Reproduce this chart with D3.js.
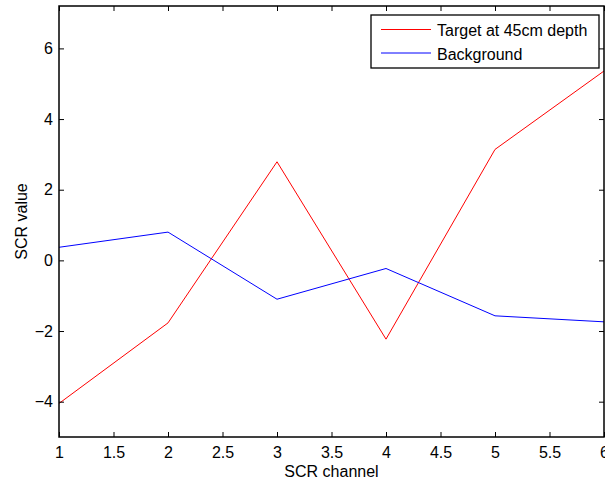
<!DOCTYPE html>
<html>
<head>
<meta charset="utf-8">
<script src="https://cdn.jsdelivr.net/npm/d3@7"></script>
<style>
  body { margin: 0; background: #fff; }
  svg text { font-family: "Liberation Sans", Arial, sans-serif; fill: #000; }
</style>
</head>
<body>
<div id="chart"></div>
<script>
// ------------------------------
// DONNEES
// ------------------------------
const channels = [1, 2, 3, 4, 5, 6];
const targetValues = [-4.05, -1.77, 2.79, -2.23, 3.14, 5.36];
const backgroundValues = [0.37, 0.8, -1.1, -0.23, -1.57, -1.74];
const xTicks = [1, 1.5, 2, 2.5, 3, 3.5, 4, 4.5, 5, 5.5, 6];
const yTicks = [-4, -2, 0, 2, 4, 6];
const seriesNames = ["Target at 45cm depth", "Background"];
const seriesColors = ["#ff0000", "#0000ff"];

// ------------------------------
// CHART
// ------------------------------
const W = 605, H = 481;
const pLeft = 59, pRight = 604, pTop = 6, pBottom = 437;
const fs = 16;

const x = d3.scaleLinear().domain([1, 6]).range([pLeft, pRight]);
const y = d3.scaleLinear().domain([-5, 7.2]).range([pBottom, pTop]);

const svg = d3.select("#chart").append("svg")
  .attr("width", W).attr("height", H);

svg.append("clipPath").attr("id", "clip")
  .append("rect").attr("x", pLeft).attr("y", pTop)
  .attr("width", pRight - pLeft).attr("height", pBottom - pTop);

const line = d3.line().x((d, i) => x(channels[i])).y(d => y(d));

[targetValues, backgroundValues].forEach((vals, k) => {
  svg.append("path")
    .datum(vals)
    .attr("clip-path", "url(#clip)")
    .attr("fill", "none")
    .attr("stroke", seriesColors[k])
    .attr("stroke-width", 1)
    .attr("d", line);
});

// axes (ticks inward, matlab style)
function styleAxis(g) {
  g.select(".domain").remove();
  g.selectAll(".tick line").attr("stroke", "#000");
  g.selectAll(".tick text").attr("font-size", fs)
    .style("font-family", '"Liberation Sans", Arial, sans-serif');
}

svg.append("g").attr("transform", `translate(0,${pBottom})`)
  .call(d3.axisBottom(x).tickValues(xTicks).tickSize(-5).tickPadding(10).tickFormat(d3.format("")))
  .call(styleAxis);

svg.append("g").attr("transform", `translate(0,${pTop})`)
  .call(d3.axisTop(x).tickValues(xTicks).tickSize(-5).tickFormat(""))
  .call(styleAxis);

svg.append("g").attr("transform", `translate(${pLeft},0)`)
  .call(d3.axisLeft(y).tickValues(yTicks).tickSize(-5).tickPadding(6).tickFormat(d3.format("")))
  .call(styleAxis);

svg.append("g").attr("transform", `translate(${pRight},0)`)
  .call(d3.axisRight(y).tickValues(yTicks).tickSize(-5).tickFormat(""))
  .call(styleAxis);

svg.append("rect")
  .attr("x", pLeft).attr("y", pTop)
  .attr("width", pRight - pLeft).attr("height", pBottom - pTop)
  .attr("fill", "none").attr("stroke", "#000").attr("stroke-width", 1.5);

// labels
svg.append("text")
  .attr("x", (pLeft + pRight) / 2).attr("y", 477)
  .attr("text-anchor", "middle").attr("font-size", fs)
  .text("SCR channel");

svg.append("text")
  .attr("transform", `translate(27,${(pTop + pBottom) / 2}) rotate(-90)`)
  .attr("text-anchor", "middle").attr("font-size", fs)
  .text("SCR value");

// legend
const lg = svg.append("g");
lg.append("rect")
  .attr("x", 371).attr("y", 15).attr("width", 228).attr("height", 53)
  .attr("fill", "#fff").attr("stroke", "#000").attr("stroke-width", 1.3);
seriesNames.forEach((name, i) => {
  const ly = 29.5 + i * 23.5;
  lg.append("line")
    .attr("x1", 381).attr("x2", 431).attr("y1", ly).attr("y2", ly)
    .attr("stroke", seriesColors[i]);
  lg.append("text")
    .attr("x", 437).attr("y", ly + 6.5).attr("font-size", fs)
    .text(name);
});
</script>
</body>
</html>
